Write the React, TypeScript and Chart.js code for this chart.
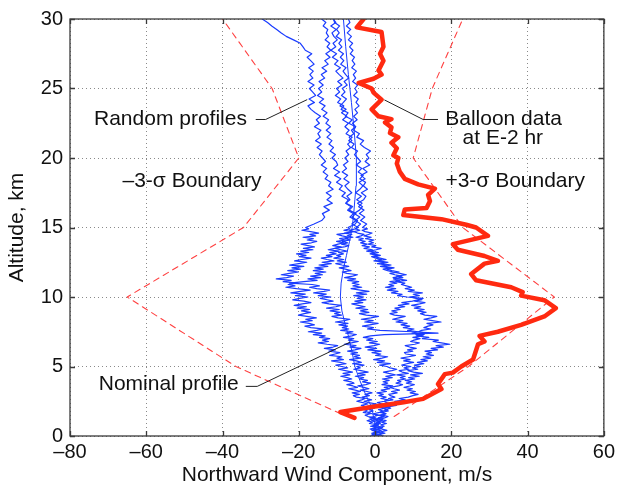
import React, { useEffect, useRef } from 'react';
import { Chart, registerables } from 'chart.js';

Chart.register(...registerables);

// ---------- axis ticks ----------
const xTickValues = [-80, -60, -40, -20, 0, 20, 40, 60];
const yTickValues = [0, 5, 10, 15, 20, 25, 30];

// ---------- shared altitude grid for random profiles (km) ----------
const profileAlt = [
  0, 0.1, 0.2, 0.3, 0.4, 0.5, 0.6, 0.7, 0.8, 0.9,
  1, 1.1, 1.2, 1.3, 1.4, 1.5, 1.6, 1.7, 1.8, 1.9,
  2, 2.1, 2.2, 2.3, 2.4, 2.5, 2.6, 2.7, 2.8, 2.9,
  3, 3.1, 3.2, 3.3, 3.4, 3.5, 3.6, 3.7, 3.8, 3.9,
  4, 4.1, 4.2, 4.3, 4.4, 4.5, 4.6, 4.7, 4.8, 4.9,
  5, 5.1, 5.2, 5.3, 5.4, 5.5, 5.6, 5.7, 5.8, 5.9,
  6, 6.1, 6.2, 6.3, 6.4, 6.5, 6.6, 6.7, 6.8, 6.9,
  7, 7.1, 7.2, 7.3, 7.4, 7.5, 7.6, 7.7, 7.8, 7.9,
  8, 8.1, 8.2, 8.3, 8.4, 8.5, 8.6, 8.7, 8.8, 8.9,
  9, 9.1, 9.2, 9.3, 9.4, 9.5, 9.6, 9.7, 9.8, 9.9,
  10, 10.1, 10.2, 10.3, 10.4, 10.5, 10.6, 10.7, 10.8, 10.9,
  11, 11.1, 11.2, 11.3, 11.4, 11.5, 11.6, 11.7, 11.8, 11.9,
  12, 12.1, 12.2, 12.3, 12.4, 12.5, 12.6, 12.7, 12.8, 12.9,
  13, 13.1, 13.2, 13.3, 13.4, 13.5, 13.6, 13.7, 13.8, 13.9,
  14, 14.1, 14.2, 14.3, 14.4, 14.5, 14.6, 14.7, 14.8, 14.9,
  15,
  15.25, 15.5, 15.75, 16,
  16.25, 16.5, 16.75, 17,
  17.25, 17.5, 17.75, 18,
  18.25, 18.5, 18.75, 19,
  19.25, 19.5, 19.75, 20,
  20.25, 20.5, 20.75, 21,
  21.25, 21.5, 21.75, 22,
  22.25, 22.5, 22.75, 23,
  23.25, 23.5, 23.75, 24,
  24.25, 24.5, 24.75, 25,
  25.25, 25.5, 25.75, 26,
  26.25, 26.5, 26.75, 27,
  27.25, 27.5, 27.75, 28,
  28.25, 28.5, 28.75, 29,
  29.25, 29.5, 29.75, 30,
];

// ---------- random profiles (m/s) ----------
const profile1 = [
  0.5, -0.8, 0.3, 1.1, -0.4, -1.3, 0.2, -0.6, 0.9, -1.5,
  -0.7, -2.1, -1.0, 0.2, -1.8, -2.6, -1.2, -3.1, -2.0, -2.8,
  -4.0, -2.3, -3.6, -1.9, -3.2, -4.8, -3.5, -2.6, -4.9, -5.7,
  -4.1, -6.0, -3.8, -5.2, -6.9, -4.6, -5.8, -7.4, -5.5, -6.3,
  -8.2, -6.1, -7.3, -9.0, -6.6, -8.4, -5.9, -7.8, -9.6, -7.2,
  -8.8, -10.3, -7.6, -9.1, -11.4, -8.3, -10.0, -8.7, -11.9, -10.5,
  -9.2, -12.1, -10.4, -13.3, -11.0, -9.8, -12.6, -14.9, -12.2, -13.8,
  -11.9, -14.6, -13.1, -16.2, -14.0, -17.5, -15.3, -13.7, -16.8, -18.4,
  -15.9, -17.3, -19.6, -16.5, -18.2, -15.4, -17.9, -20.1, -18.6, -16.9,
  -19.3, -17.2, -20.4, -18.0, -21.2, -19.1, -16.8, -18.7, -21.6, -19.8,
  -17.6, -20.9, -18.3, -22.1, -19.5, -17.0, -20.6, -23.4, -21.0, -22.8,
  -20.3, -24.1, -22.0, -25.9, -23.2, -21.4, -24.6, -22.5, -20.1, -22.9,
  -19.6, -21.8, -18.7, -22.4, -20.0, -17.9, -21.1, -19.2, -16.8, -19.9,
  -18.1, -20.6, -17.4, -19.5, -16.3, -18.8, -15.9, -17.6, -19.4, -16.7,
  -15.3, -17.8, -16.2, -18.9, -15.6, -17.1, -14.8, -16.9, -19.2, -17.4,
  -18.2,
  -16.0, -14.0, -13.2, -13.8,
  -12.0, -13.4, -11.2, -12.6,
  -11.5, -12.8, -11.0, -12.2,
  -11.6, -13.1, -12.4, -13.6,
  -12.7, -14.1, -13.0, -13.8,
  -14.6, -13.9, -15.2, -14.1,
  -15.6, -14.4, -15.0, -14.2,
  -15.9, -14.6, -15.4, -14.3,
  -15.7, -16.8, -17.6, -15.9,
  -17.3, -15.6, -16.4, -17.2,
  -16.0, -17.6, -16.3, -17.1,
  -16.2, -17.4, -16.0, -16.9,
  -17.8, -16.6, -18.3, -18.9,
  -19.6, -21.4, -23.3, -24.6,
  -25.8, -27.1, -28.2, -29.6,
];
const profile2 = [
  1.3, 0.1, 1.9, 0.6, -0.4, 1.2, 2.0, 0.8, -0.2, 1.0,
  0.3, -0.9, 0.7, -1.4, -0.3, 0.9, -0.8, -1.9, -0.5, -1.6,
  -0.2, -2.3, -1.1, 0.4, -1.7, -2.9, -0.9, -2.2, -3.4, -1.5,
  -2.7, -0.8, -2.1, -3.9, -1.6, -2.9, -4.5, -2.4, -1.2, -3.3,
  -2.0, -4.1, -3.0, -5.2, -2.6, -4.4, -1.8, -3.7, -5.6, -3.9,
  -4.8, -2.9, -5.9, -3.6, -4.9, -6.7, -3.8, -5.5, -4.1, -6.4,
  -4.6, -7.2, -5.3, -3.7, -6.6, -5.0, -8.1, -6.2, -4.4, -7.0,
  -5.6, -8.3, -6.1, -4.9, -7.7, -5.8, -9.0, -6.9, -8.6, -7.2,
  -9.5, -7.1, -10.4, -8.0, -6.6, -9.7, -11.3, -8.8, -10.6, -9.1,
  -11.8, -9.4, -12.7, -10.3, -8.9, -12.1, -13.9, -11.0, -12.6, -14.4,
  -11.6, -14.9, -12.8, -16.1, -13.4, -11.9, -15.3, -17.2, -14.6, -16.5,
  -22.4, -18.7, -15.2, -17.6, -14.3, -16.9, -13.8, -15.7, -12.9, -16.2,
  -13.6, -15.8, -12.4, -14.7, -11.5, -13.9, -10.8, -12.6, -14.1, -11.3,
  -12.8, -10.2, -11.9, -9.4, -12.3, -10.6, -8.9, -11.1, -9.7, -8.2,
  -10.1, -7.8, -9.3, -6.9, -8.6, -10.0, -7.4, -6.1, -8.2, -6.6,
  -7.1,
  -5.2, -4.6, -6.1, -5.0,
  -6.8, -5.9, -7.6, -7.0,
  -8.7, -7.8, -9.4, -8.6,
  -10.1, -9.0, -10.6, -9.3,
  -10.9, -9.8, -10.2, -11.3,
  -10.4, -11.8, -10.9, -12.1,
  -11.3, -12.6, -11.6, -12.8,
  -11.7, -12.9, -12.2, -13.6,
  -12.6, -14.0, -13.1, -14.6,
  -13.5, -15.1, -14.0, -14.8,
  -13.6, -14.7, -13.2, -14.1,
  -12.7, -13.9, -12.3, -13.2,
  -11.8, -12.9, -11.6, -12.6,
  -11.9, -13.1, -12.2, -12.8,
  -12.4, -13.6, -12.9, -14.0,
];
const profile3 = [
  2.2, 0.9, 2.6, 1.4, 3.1, 1.8, 0.7, 2.4, 1.5, 3.0,
  1.7, 2.9, 1.2, 2.5, 3.4, 1.9, 2.8, 1.3, 2.2, 3.3,
  2.1, 3.8, 2.6, 4.2, 3.0, 2.4, 4.7, 3.5, 5.2, 4.0,
  3.6, 5.8, 4.3, 6.4, 5.0, 3.9, 6.1, 7.2, 5.5, 6.8,
  5.9, 8.0, 6.6, 7.9, 5.7, 8.7, 7.1, 6.3, 8.9, 7.6,
  9.4, 7.0, 8.3, 10.1, 7.5, 9.2, 6.8, 8.8, 10.6, 8.1,
  7.7, 9.9, 8.5, 10.8, 9.1, 7.9, 10.4, 11.6, 9.3, 10.2,
  11.8, 9.9, 12.6, 10.7, 13.5, 11.4, 12.2, 14.6, 12.8, 13.9,
  15.2, 13.6, 17.3, 15.0, 12.8, 14.7, 16.2, 13.1, 11.9, 13.4,
  11.2, 12.9, 10.3, 12.0, 9.6, 11.7, 13.1, 10.4, 12.3, 10.8,
  9.1, 11.6, 10.0, 12.4, 8.7, 10.3, 7.9, 9.6, 8.2, 6.9,
  7.8, 5.4, 8.3, 6.1, 4.7, 7.0, 5.2, 3.9, 6.3, 4.4,
  3.1, 5.0, 2.3, 4.2, 1.6, 3.4, 0.8, 2.9, 1.3, -0.2,
  1.4, -0.6, 0.9, -1.4, 0.3, 1.6, -0.9, 0.2, -1.8, -0.4,
  -1.6, -0.3, -2.5, -1.0, -2.9, -1.7, -0.8, -2.6, -3.4, -2.0,
  -3.3,
  -2.2, -3.8, -2.7, -4.1,
  -2.9, -4.3, -3.4, -4.8,
  -3.6, -5.1, -4.0, -3.2,
  -4.2, -2.6, -3.7, -2.1,
  -3.2, -1.4, -2.6, -1.6,
  -2.3, -1.2, -2.8, -3.9,
  -3.0, -4.8, -4.1, -5.6,
  -5.1, -6.9, -6.0, -7.8,
  -7.1, -8.9, -8.2, -9.8,
  -9.0, -10.4, -9.3, -10.1,
  -8.7, -9.8, -8.4, -9.4,
  -10.3, -9.1, -10.6, -9.7,
  -11.2, -10.1, -11.6, -10.3,
  -11.0, -9.9, -10.8, -11.3,
  -10.2, -11.6, -10.3, -11.0,
];
const profile4 = [
  -1.2, 0.4, -0.3, 1.1, -0.8, 0.6, 1.5, -0.2, 0.9, 0.1,
  1.4, 0.2, 1.9, 0.8, 2.4, 1.1, 2.9, 1.7, 3.5, 2.6,
  4.1, 3.2, 5.6, 4.4, 6.8, 5.1, 7.9, 6.3, 8.7, 9.9,
  11.3, 9.2, 10.6, 8.4, 9.8, 7.6, 9.1, 10.3, 8.2, 9.6,
  7.9, 10.4, 8.8, 11.6, 9.3, 12.4, 10.1, 8.6, 11.2, 9.8,
  11.9, 10.3, 12.8, 11.1, 13.7, 12.0, 14.6, 12.6, 15.3, 13.4,
  14.8, 13.1, 16.4, 14.7, 17.9, 16.0, 19.6, 17.4, 15.2, 16.6,
  12.4, 14.1, 10.8, 12.9, 9.7, 11.3, 8.5, 10.2, 7.4, 9.1,
  6.8, 8.4, 5.5, 7.3, 4.6, 6.2, 7.9, 5.1, 3.9, 5.8,
  4.4, 6.6, 5.2, 7.8, 6.1, 8.9, 7.0, 9.8, 11.2, 12.6,
  8.4, 5.9, 7.1, 4.3, 6.0, 3.2, 5.4, 2.7, 4.9, 3.6,
  5.7, 3.9, 6.4, 4.8, 7.3, 5.6, 8.2, 6.5, 4.7, 3.3,
  2.1, 4.0, 1.4, 3.1, 0.6, 2.5, -0.3, 1.7, 0.2, -0.9,
  0.8, -1.3, -0.2, -2.2, -0.7, -2.9, -1.5, -3.4, -2.1, -3.8,
  -2.6, -4.3, -3.1, -5.0, -3.7, -2.9, -4.6, -5.5, -4.0, -5.1,
  -4.4,
  -6.1, -5.0, -6.6, -5.7,
  -7.2, -6.3, -7.7, -6.6,
  -7.4, -6.1, -7.1, -7.9,
  -6.8, -8.2, -7.2, -8.6,
  -7.5, -8.3, -7.1, -7.9,
  -6.9, -7.6, -6.4, -7.2,
  -6.1, -6.8, -5.6, -6.2,
  -5.1, -5.9, -4.7, -5.6,
  -4.6, -5.3, -4.2, -5.0,
  -4.4, -5.6, -4.7, -5.3,
  -4.6, -5.9, -5.1, -5.7,
  -4.9, -6.1, -5.3, -6.0,
  -5.4, -6.5, -5.8, -6.7,
  -5.9, -7.0, -6.2, -7.3,
  -6.4, -7.5, -6.6, -7.0,
];
const profile5 = [
  -0.3, 1.1, -0.9, 0.4, 1.6, -0.5, 0.8, -1.2, 0.3, 1.4,
  0.6, 1.9, 0.1, 1.3, 2.3, 0.7, -0.4, 1.2, 2.1, 0.9,
  2.6, 1.1, 3.2, 1.8, 0.6, 2.4, 3.5, 1.5, 2.9, 1.0,
  2.2, 0.5, 3.0, 1.6, 3.9, 2.4, 4.6, 1.8, 3.3, 2.1,
  3.7, 1.9, 4.5, 2.8, 5.3, 3.6, 2.2, 4.4, 5.7, 3.9,
  3.1, 1.2, 4.0, 0.6, 2.5, -0.4, 1.8, 3.3, 0.2, 1.5,
  -0.8, 1.6, -1.9, 0.4, -2.6, -0.3, 1.2, -1.5, 0.6, -2.2,
  -0.6, -3.1, -1.2, 2.4, 16.5, 9.8, 1.3, -2.0, -0.4, -3.3,
  -1.4, 0.8, -2.7, -0.5, -3.6, -1.1, 0.9, -2.3, -4.1, -1.6,
  -3.8, -1.9, -5.0, -2.6, -4.4, -6.1, -3.2, -5.3, -2.4, -4.7,
  -3.0, -5.6, -2.2, -4.9, -1.6, -3.9, -6.3, -3.5, -5.8, -4.2,
  -6.0, -4.3, -7.2, -5.1, -8.0, -5.9, -4.6, -7.4, -8.6, -6.3,
  -7.8, -9.4, -6.9, -8.7, -10.3, -7.5, -9.9, -8.2, -10.8, -9.0,
  -10.1, -8.3, -9.6, -7.4, -9.0, -10.5, -8.1, -6.9, -8.8, -7.2,
  -8.6, -6.5, -7.9, -5.8, -7.3, -6.1, -8.0, -5.5, -6.7, -5.2,
  -4.9,
  -3.8, -5.2, -4.0, -5.5,
  -4.1, -3.3, -4.6, -3.0,
  -2.4, -3.6, -2.0, -3.1,
  -2.5, -4.0, -3.1, -4.4,
  -3.5, -4.9, -3.8, -4.6,
  -5.4, -4.6, -6.2, -5.5,
  -6.9, -6.0, -7.6, -6.8,
  -7.9, -7.0, -8.5, -7.4,
  -8.8, -7.6, -9.2, -8.3,
  -7.5, -8.8, -7.9, -8.6,
  -7.3, -8.1, -6.9, -7.7,
  -8.4, -7.6, -9.0, -8.2,
  -9.1, -8.3, -9.6, -8.7,
  -9.5, -8.8, -10.2, -9.4,
  -10.1, -9.3, -10.6, -10.9,
];

// ---------- nominal profile ----------
const nominalAlt = [0, 1, 2, 3, 4, 5, 6, 7, 8, 9, 10, 11, 12, 13, 14, 15, 16, 17, 18, 20, 22, 24, 26, 28, 30];
const nominalWind = [0, -0.2, -0.8, -2.5, -4.0, -5.3, -6.0, -6.8, -7.8, -8.7, -9.1, -8.9, -8.3, -7.5, -6.7, -6.0, -5.6, -5.3, -5.0, -4.9, -5.5, -6.2, -7.0, -7.7, -8.3];

// ---------- 3-sigma boundaries ----------
const minusSigmaAlt = [1.6, 5, 10, 15, 20, 25, 30];
const minusSigmaWind = [-9, -36.5, -65, -34.5, -20, -27, -40];
const plusSigmaAlt = [1.4, 5, 10, 15, 20, 25, 30];
const plusSigmaWind = [5, 24.5, 47, 23, 10, 15, 23];

// ---------- balloon data at E-2 hr ----------
const balloonAlt = [
  30.0, 29.4, 29.06, 28.0, 27.5, 27.0, 26.3, 26.0, 25.7, 25.4, 25.0, 24.7, 24.2, 23.5, 23.0, 22.8,
  22.55, 22.2, 21.8, 21.5, 21.1, 20.7, 20.2, 20.0, 19.6, 19.0, 18.5, 18.1, 17.8, 17.35, 16.9, 16.4,
  16.3, 15.9, 15.6, 15.2, 15.0, 14.4, 13.8, 13.4, 12.95, 12.6, 12.4, 11.65, 11.2, 10.7, 10.35, 10.1,
  9.77, 9.2, 8.6, 8.0, 7.5, 7.2, 6.8, 6.6, 5.5, 5.0, 4.56, 4.45, 3.74, 3.38, 2.67, 2.43,
  2.08, 1.72, 1.3,
];
const balloonWind = [
  -3.0, -4.8, 1.7, 2.2, 1.3, 2.2, 0.9, 1.7, -0.4, -4.3, -0.9, -0.4, 1.7, -0.9, 0.9, 4.3,
  2.6, 4.3, 3.9, 6.1, 4.3, 5.7, 4.8, 6.1, 5.7, 6.5, 7.8, 11.3, 15.7, 13.9, 14.4, 13.5,
  7.8, 7.4, 17.4, 23.9, 26.5, 29.6, 20.4, 21.7, 28.7, 32.2, 28.7, 25.2, 26.5, 35.7, 38.7, 38.3,
  44.4, 47.4, 44.4, 38.3, 32.2, 27.4, 28.7, 27.0, 25.7, 22.6, 20.4, 18.3, 16.5, 17.4, 12.6, 7.5,
  -0.9, -9.1, -5.4,
];

const FONT = "'Liberation Sans', Arial, Helvetica, sans-serif";
const BLUE = '#1a3cff';
const RED = '#ff2a10';
const RED_DASH = '#ff4040';

function pts(xs: number[], ys: number[]) {
  const n = Math.min(xs.length, ys.length);
  const out: { x: number; y: number }[] = [];
  for (let i = 0; i < n; i++) out.push({ x: xs[i], y: ys[i] });
  return out;
}

const decorPlugin = {
  id: 'decor',
  afterDraw(chart: any) {
    const { ctx, chartArea: a, scales } = chart;
    const sx = scales.x;
    const sy = scales.y;
    ctx.save();
    ctx.strokeStyle = '#3a3a3a';
    ctx.lineWidth = 1.3;
    ctx.setLineDash([]);
    ctx.strokeRect(a.left, a.top, a.right - a.left, a.bottom - a.top);
    ctx.beginPath();
    xTickValues.forEach((v) => {
      const px = Math.round(sx.getPixelForValue(v)) + 0.5;
      ctx.moveTo(px, a.bottom);
      ctx.lineTo(px, a.bottom - 5);
      ctx.moveTo(px, a.top);
      ctx.lineTo(px, a.top + 5);
    });
    yTickValues.forEach((v) => {
      const py = Math.round(sy.getPixelForValue(v)) + 0.5;
      ctx.moveTo(a.left, py);
      ctx.lineTo(a.left + 5, py);
      ctx.moveTo(a.right, py);
      ctx.lineTo(a.right - 5, py);
    });
    ctx.stroke();

    ctx.fillStyle = '#111';
    ctx.font = `21px ${FONT}`;
    ctx.textAlign = 'center';
    ctx.textBaseline = 'middle';
    ctx.fillText('Northward Wind Component, m/s', (a.left + a.right) / 2, a.bottom + 39);
    ctx.save();
    ctx.translate(a.left - 53, (a.top + a.bottom) / 2);
    ctx.rotate(-Math.PI / 2);
    ctx.fillText('Altitude, km', 0, 0);
    ctx.restore();

    const P = (x: number, y: number) => [sx.getPixelForValue(x), sy.getPixelForValue(y)];
    const text = (s: string, x: number, y: number) => {
      const [px, py] = P(x, y);
      ctx.fillText(s, px, py);
    };
    text('Random profiles', -53.65, 22.8);
    text('Balloon data', 33.7, 22.8);
    text('at E-2 hr', 33.5, 21.44);
    text('\u20133-\u03c3 Boundary', -48.0, 18.35);
    text('+3-\u03c3 Boundary', 36.75, 18.35);
    text('Nominal profile', -54.1, 3.7);

    const leader = (pairs: number[][]) => {
      ctx.beginPath();
      pairs.forEach((p, i) => {
        const [px, py] = P(p[0], p[1]);
        if (i === 0) ctx.moveTo(px, py);
        else ctx.lineTo(px, py);
      });
      ctx.stroke();
    };
    ctx.strokeStyle = '#222';
    ctx.lineWidth = 1;
    leader([[-31.3, 22.77], [-28.7, 22.77], [-17.8, 24.2]]);
    leader([[16.5, 22.77], [12.6, 22.77], [2.44, 24.18]]);
    leader([[-33.9, 3.57], [-30.9, 3.57], [-6.5, 6.76]]);
    ctx.restore();
  },
};

export default function App() {
  const ref = useRef<HTMLCanvasElement>(null);
  useEffect(() => {
    if (!ref.current) return;
    Chart.defaults.font.family = FONT;
    const line = (data: any, color: string, width: number, dash: number[] = []) => ({
      data,
      showLine: true,
      borderColor: color,
      backgroundColor: color,
      borderWidth: width,
      borderDash: dash,
      pointRadius: 0,
      pointHoverRadius: 0,
      fill: false,
      tension: 0,
      borderJoinStyle: 'round',
      borderCapStyle: 'round',
    });
    const chart = new Chart(ref.current, {
      type: 'scatter',
      data: {
        datasets: [
          line(pts(balloonWind, balloonAlt), RED, 4.5),
          line(pts(nominalWind, nominalAlt), BLUE, 1),
          line(pts(profile1, profileAlt), BLUE, 1.2),
          line(pts(profile2, profileAlt), BLUE, 1.2),
          line(pts(profile3, profileAlt), BLUE, 1.2),
          line(pts(profile4, profileAlt), BLUE, 1.2),
          line(pts(profile5, profileAlt), BLUE, 1.2),
          line(pts(minusSigmaWind, minusSigmaAlt), RED_DASH, 1.1, [6, 5]),
          line(pts(plusSigmaWind, plusSigmaAlt), RED_DASH, 1.1, [6, 5]),
        ] as any,
      },
      options: {
        responsive: false,
        animation: false,
        devicePixelRatio: 1,
        layout: { padding: { top: 13, right: 12, left: 0, bottom: 0 } },
        plugins: { legend: { display: false }, tooltip: { enabled: false } },
        events: [],
        scales: {
          x: {
            type: 'linear',
            min: -80,
            max: 60,
            afterBuildTicks: (s: any) => {
              s.ticks = xTickValues.map((v) => ({ value: v }));
            },
            afterFit: (s: any) => {
              s.height = 54;
            },
            ticks: {
              padding: 4,
              color: '#111',
              font: { size: 20, family: FONT },
              maxRotation: 0,
              callback: (v: any) => (v < 0 ? '\u2013' + Math.abs(v) : String(v)),
            },
            grid: { color: '#8a8a8a', lineWidth: 1, drawTicks: false },
            border: { display: false, dash: [1, 3] },
          },
          y: {
            type: 'linear',
            min: 0,
            max: 30,
            afterBuildTicks: (s: any) => {
              s.ticks = yTickValues.map((v) => ({ value: v }));
            },
            afterFit: (s: any) => {
              s.width = 70;
            },
            ticks: {
              padding: 7,
              color: '#111',
              font: { size: 20, family: FONT },
              callback: (v: any) => String(v),
            },
            grid: { color: '#8a8a8a', lineWidth: 1, drawTicks: false },
            border: { display: false, dash: [1, 3] },
          },
        },
      } as any,
      plugins: [decorPlugin],
    });
    return () => chart.destroy();
  }, []);
  return (
    <div style={{ position: 'fixed', left: 0, top: 0, width: 619, height: 490, background: '#fff' }}>
      <canvas ref={ref} width={619} height={490} style={{ display: 'block' }} />
    </div>
  );
}
